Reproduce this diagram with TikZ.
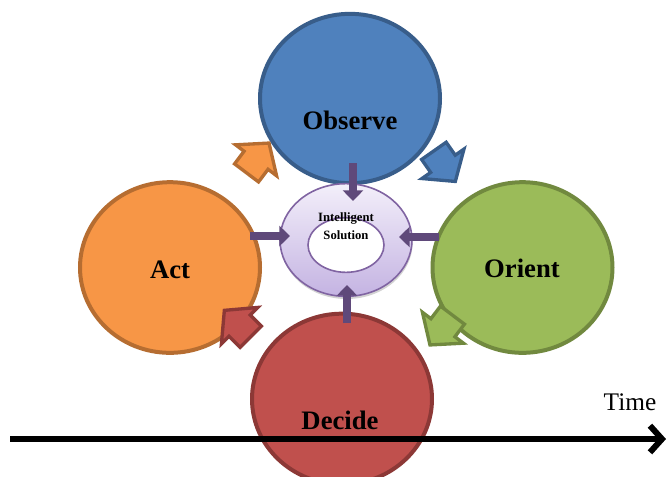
\documentclass[tikz,border=0pt]{standalone}
\usepackage{fontspec}
\setmainfont{Liberation Serif}
\usetikzlibrary{
        arrows.meta,
        calc,
        positioning,
        shadows,
        shapes.arrows,
        shapes.geometric
    }
\definecolor{obsfill}{HTML}{4F81BD}
\definecolor{obsline}{HTML}{385D8A}
\definecolor{orifill}{HTML}{9BBB59}
\definecolor{oriline}{HTML}{71893F}
\definecolor{actfill}{HTML}{F79646}
\definecolor{actline}{HTML}{B66D31}
\definecolor{decfill}{HTML}{C0504D}
\definecolor{decline}{HTML}{8C3836}
\definecolor{feedcol}{HTML}{5F497A}
\definecolor{ringline}{HTML}{8064A2}
\definecolor{ringtop}{HTML}{F3EFFA}
\definecolor{ringbot}{HTML}{C4B3E2}
\tikzset{>=Stealth,node distance=2cm}
\tikzset{
    phase/.style={ellipse,draw,line width=3pt,minimum width=135pt,minimum height=128pt,inner sep=0pt},
    phaselabel/.style={font=\fontsize{20}{24}\selectfont\bfseries},
    turn/.style={single arrow,draw,line width=2.5pt,minimum height=28pt,inner xsep=0pt,inner ysep=10pt,
        single arrow head extend=8pt,single arrow tip angle=100},
    feed/.style={draw=feedcol,line width=6pt,-{Triangle[length=8pt,width=15pt]}}
}

\begin{document}
\begin{tikzpicture}[x=0.75pt,y=-0.75pt]
    \useasboundingbox (0,0) rectangle (672,476);
    % the four phases
    \node[phase,fill=obsfill,draw=obsline,minimum height=127pt] (obs) at (350,98.5) {};
    \node[phase,fill=orifill,draw=oriline] (ori) at (522.5,267.5) {};
    \node[phase,fill=actfill,draw=actline] (act) at (170,267.5) {};
    \node[phase,fill=decfill,draw=decline] (dec) at (342,399) {};
    \node[phaselabel] (obsl) at (350,120) {Observe};
    \node[phaselabel] (oril) at (522,268) {Orient};
    \node[phaselabel] (actl) at (170,270) {Act};
    \node[phaselabel] (decl) at (340,420) {Decide};
    % turning arrows between phases
    \node[turn,fill=actfill,draw=actline,rotate=53] (ta) at (254,163) {};
    \node[turn,fill=obsfill,draw=obsline,rotate=-55] (to) at (441,161) {};
    \node[turn,fill=orifill,draw=oriline,rotate=233] (tr) at (445,325) {};
    \node[turn,fill=decfill,draw=decline,rotate=135] (td) at (242,328) {};
    % centre ring
    \node[ellipse,draw=ringline,line width=1.2pt,top color=ringtop,bottom color=ringbot,
        minimum width=99pt,minimum height=84.5pt,
        drop shadow={shadow xshift=0.5pt,shadow yshift=-2pt,opacity=0.35}] (ring) at (346,240) {};
    \node[ellipse,draw=ringline,line width=1.2pt,fill=white,
        minimum width=57pt,minimum height=41pt] (hole) at (346,245) {};
    \node[font=\fontsize{9.5}{13.5}\selectfont\bfseries,align=center] (sol) at (346,226) {Intelligent\\Solution};
    % feeding arrows
    \draw[feed] ($(obs.center)+(3,64.5)$) -- ($(ring.center)+(7,-39)$);
    \draw[feed] ($(act.center)+(80,-31.5)$) -- ($(ring.center)+(-56,-4)$);
    \draw[feed] ($(ori.center)+(-83.5,-30.5)$) -- ($(ring.center)+(53,-3)$);
    \draw[feed] ($(dec.center)+(5,-76)$) -- ($(ring.center)+(1,45)$);
    % time line
    \coordinate (t0) at (10,439);
    \coordinate (t1) at (666,439);
    \draw[line width=4.5pt,-{Straight Barb[length=9pt,width=20pt]}] (t0) -- (t1);
    \node[font=\fontsize{19}{22}\selectfont] (time) at (630,402) {Time};
\end{tikzpicture}
\end{document}
